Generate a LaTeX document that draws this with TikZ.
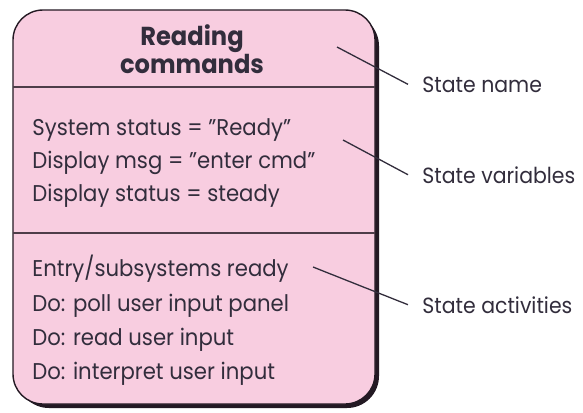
\documentclass[tikz,border=0pt]{standalone}
\usepackage{fontspec}
\setmainfont{Poppins}[FakeStretch=0.93]
\usetikzlibrary{positioning}
\definecolor{statepink}{RGB}{248,205,224}
\definecolor{edgedark}{RGB}{35,25,35}
\definecolor{textdark}{RGB}{50,45,60}

\begin{document}
\begin{tikzpicture}[
    x=0.5pt, y=-0.5pt,
    title/.style={align=center, inner sep=0pt, text=textdark,
      font=\fontsize{13}{14}\selectfont\bfseries},       % state name
    field/.style={anchor=base west, inner sep=0pt, text=textdark,
      font=\fontsize{11.4}{13}\selectfont},              % lines in the box
    note/.style={anchor=base west, inner xsep=7pt, inner ysep=0pt, text=textdark,
      font=\fontsize{11}{13}\selectfont},                % labels on the right
    leader/.style={draw=textdark, line width=0.65pt}     % pointer lines
    ]
    \useasboundingbox (0,0) rectangle (583,412);

    % State box with its shadow
    \fill[edgedark, rounded corners=16pt] (17,14) rectangle (379,408);
    \draw[fill=statepink, draw=edgedark, line width=0.7pt, rounded corners=15pt]
      (13,10) rectangle (375,404);
    \draw[edgedark!80!statepink, line width=0.8pt] (13,87) -- (375,87);
    \draw[edgedark!80!statepink, line width=0.8pt] (13,233) -- (375,233);

    % State name
    \node[title] (name) at (192,49) {Reading\\commands};

    % State variables
    \node[field] (var1) at (32,135) {System status = "Ready"};
    \node[field] (var2) at (32,168) {Display msg = "enter cmd"};
    \node[field] (var3) at (32,201) {Display status = steady};

    % State activities
    \node[field] (act1) at (32,276) {Entry/subsystems ready};
    \node[field] (act2) at (32,311) {Do: poll user input panel};
    \node[field] (act3) at (32,345) {Do: read user input};
    \node[field] (act4) at (32,379) {Do: interpret user input};

    % Labels and their pointers
    \node[note] (lblname) at (408,92) {State name};
    \node[note] (lblvars) at (408,183) {State variables};
    \node[note] (lblacts) at (408,313) {State activities};

    \coordinate (ptname) at (337,47);
    \coordinate (ptvars) at (343,140);
    \coordinate (ptacts) at (313,267);

    \draw[leader] (ptname) -- (lblname.west);
    \draw[leader] (ptvars) -- (lblvars.west);
    \draw[leader] (ptacts) -- (lblacts.west);

\end{tikzpicture}
\end{document}
